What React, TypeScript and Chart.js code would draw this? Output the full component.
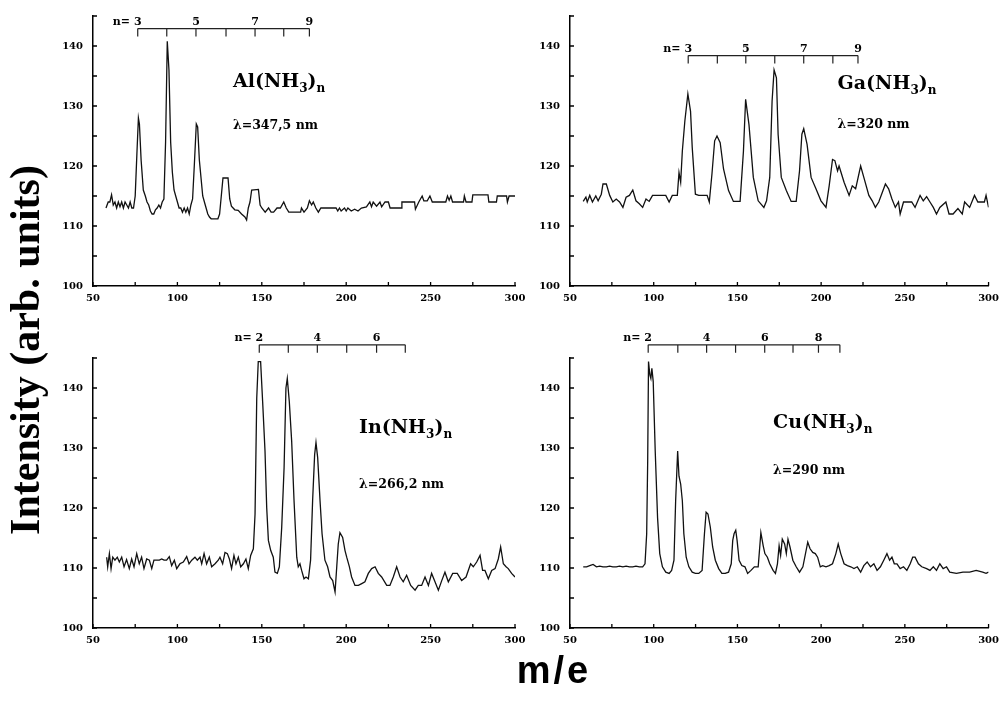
import React, { useEffect, useRef } from "react";
import { Chart, registerables } from "chart.js";

Chart.register(...registerables);

// ---------- Al(NH3)n ----------
const alMass = [57.7, 59, 60, 61, 62, 63, 64, 65, 66, 67, 68, 69, 70, 71, 72, 73, 74, 75, 76, 76.9, 77.5, 78.5, 79.8, 81, 82, 83, 84, 85, 86, 87, 88, 89, 90, 91, 92, 93, 94, 95, 96, 97, 98, 99, 100, 101, 102, 103, 104, 105, 106, 107, 108, 109, 110, 111.2, 112, 113, 114, 115, 116, 117, 118, 119, 120, 124, 125, 126, 127, 130, 131, 132, 134, 136, 138, 140, 141, 142, 143, 144, 148, 149, 150, 152, 154, 155.5, 157, 159, 161, 163, 164.5, 166, 173, 173.5, 175, 177, 178.2, 179.5, 180.5, 182, 183.5, 185, 194, 195, 196, 197, 199, 200, 201, 203, 205, 207, 209, 212, 214, 215, 216, 218, 220, 221, 223, 225, 226, 232.5, 233, 240.5, 241, 243, 245, 246, 248, 249.6, 251, 259, 260, 261, 262, 263, 269.5, 270, 271, 274.5, 275, 284, 284.5, 289, 289.5, 295, 295.5, 296.5, 300];
const alIntensity = [113, 114, 114, 115.2, 113.5, 114, 113, 114, 113.2, 114, 113, 114, 113.5, 113, 114, 113, 113, 115, 122, 128, 127, 121, 116, 115, 114, 113.5, 112.5, 112, 112, 112.7, 113, 113.5, 113, 114, 114.5, 124, 140.8, 136, 124, 119, 116, 115, 114, 113, 113, 112.3, 113, 112.3, 113, 112, 113.5, 114.5, 120, 127, 126.5, 121, 118, 115, 114, 113, 112, 111.5, 111.2, 111.2, 112, 115, 118, 118, 114.5, 113.3, 112.7, 112.6, 112, 111.5, 111, 113, 114, 116, 116.1, 113.5, 113, 112.3, 113, 112.3, 112.3, 113, 113, 114, 113, 112.3, 112.3, 113, 112.3, 113, 114.2, 113.5, 114, 113, 112.3, 113, 113, 112.5, 113, 112.5, 113, 112.5, 113, 112.5, 112.8, 112.5, 113, 113.2, 114, 113.2, 114, 113.3, 114, 113.2, 114, 114, 113, 113, 114, 114, 112.8, 114, 115, 114.2, 114.2, 115, 114, 114, 115, 114.3, 115, 114, 114, 115, 114, 114, 115.2, 115.2, 114, 114, 115, 115, 114, 115, 115];
const alBracketMass = [76.5, 93.7, 111, 128.8, 146, 163, 178.2];
const alBracketLabels = ["n= 3", "", "5", "", "7", "", "9"];

// ---------- Ga(NH3)n ----------
const gaMass = [57.9, 59.5, 60.3, 61.8, 63.4, 65.4, 66.8, 68.7, 69.7, 71.7, 73.7, 75.6, 77.6, 79.6, 81.6, 83.5, 85.5, 87.5, 89.4, 91.4, 93.4, 95.4, 97.3, 99.3, 103.3, 107.2, 109.2, 111.1, 114.1, 115.1, 116.1, 117.1, 118.6, 120.4, 122.0, 123.0, 124.9, 126.9, 131.9, 133.2, 134.8, 136.4, 137.8, 139.7, 141.7, 144.7, 147.6, 151.6, 153.6, 154.9, 156.9, 159.5, 162.4, 165.8, 167.4, 169.3, 170.7, 171.9, 173.3, 174.3, 176.2, 179.2, 182.1, 185.1, 187.1, 188.5, 189.6, 191.6, 194.0, 196.9, 199.9, 202.9, 204.8, 206.8, 208.2, 209.8, 210.7, 213.7, 216.7, 218.6, 220.6, 223.6, 225.5, 228.5, 230.5, 232.4, 234.4, 238.4, 240.3, 242.3, 244.3, 246.2, 247.2, 249.2, 254.1, 256.1, 259.1, 261.0, 263.0, 265.0, 267.0, 268.9, 270.9, 274.5, 276.4, 278.8, 281.7, 284.3, 285.7, 288.7, 291.6, 293.6, 297.5, 298.5, 300.0];
const gaIntensity = [114.1, 114.8, 114.0, 115.1, 114.0, 115.0, 114.2, 115.3, 117.0, 117.0, 115.1, 114.0, 114.5, 114.0, 113.1, 114.8, 115.1, 116.0, 114.2, 113.7, 113.1, 114.5, 114.1, 115.1, 115.1, 115.1, 114.0, 115.1, 115.1, 118.9, 117.3, 122.5, 127.5, 132.0, 129.1, 123.1, 115.3, 115.1, 115.1, 114.0, 118.7, 124.2, 125.0, 123.9, 119.5, 115.9, 114.1, 114.1, 122.5, 131.1, 126.9, 118.1, 114.2, 113.1, 114.2, 118.1, 130.8, 136.0, 134.7, 125.3, 118.1, 115.9, 114.1, 114.1, 119.2, 125.3, 126.2, 123.6, 118.1, 116.2, 114.2, 113.1, 116.7, 121.1, 120.9, 119.2, 120.0, 117.3, 115.1, 116.7, 116.2, 120.0, 118.1, 115.1, 114.2, 113.1, 114.0, 117.0, 116.2, 114.5, 113.1, 114.0, 112.0, 114.0, 114.0, 113.1, 115.1, 114.2, 114.9, 114.0, 113.1, 112.0, 113.1, 114.0, 112.0, 112.0, 112.9, 112.0, 114.0, 113.1, 115.1, 114.0, 114.0, 115.1, 113.1];
const gaBracketMass = [120.6, 138, 155, 172.3, 189.6, 207, 222];
const gaBracketLabels = ["n= 3", "", "5", "", "7", "", "9"];

// ---------- In(NH3)n ----------
const inMass = [58.1, 58.7, 59.7, 60.7, 61.7, 63.0, 64.4, 65.6, 67.0, 68.4, 69.9, 71.5, 72.9, 74.3, 75.9, 77.4, 78.8, 80.2, 81.8, 83.4, 84.8, 86.1, 87.7, 89.3, 90.7, 92.1, 93.6, 95.2, 96.6, 98.2, 99.6, 101.5, 103.5, 105.5, 106.9, 108.5, 110.4, 111.8, 113.4, 114.4, 115.8, 117.3, 118.9, 120.3, 122.3, 124.2, 125.2, 126.8, 128.2, 129.6, 130.8, 132.1, 133.5, 134.7, 136.1, 137.5, 139.1, 140.6, 142.0, 143.4, 145.0, 146.0, 147.0, 147.9, 149.3, 150.5, 151.9, 152.9, 153.9, 155.3, 156.8, 157.8, 159.2, 160.4, 161.8, 163.2, 164.3, 165.1, 166.3, 167.7, 169.1, 170.7, 171.6, 172.6, 173.6, 175.0, 176.2, 177.6, 178.9, 180.1, 181.3, 182.1, 183.1, 184.5, 185.7, 187.4, 189.0, 190.4, 192.0, 193.4, 194.4, 195.3, 196.3, 197.9, 199.3, 200.3, 201.9, 203.2, 205.2, 207.2, 209.2, 211.1, 213.1, 215.1, 217.1, 219.0, 221.0, 224.0, 225.9, 227.9, 229.9, 231.9, 233.8, 235.8, 238.2, 240.8, 242.7, 244.7, 246.7, 248.7, 250.6, 252.6, 254.6, 256.6, 258.5, 260.5, 263.1, 265.8, 268.4, 271.0, 273.7, 275.3, 277.3, 279.3, 280.8, 282.2, 284.2, 286.2, 288.2, 290.1, 291.5, 293.1, 294.7, 296.0, 298.0, 300.0];
const inIntensity = [111.8, 110.2, 112.4, 109.9, 111.8, 111.3, 111.8, 111.0, 111.8, 110.2, 111.4, 109.9, 111.5, 110.2, 112.4, 110.7, 111.8, 109.9, 111.5, 111.3, 109.9, 111.3, 111.3, 111.3, 111.5, 111.3, 111.3, 111.9, 110.4, 111.3, 109.9, 110.7, 111.0, 111.9, 110.7, 111.3, 111.8, 111.3, 111.8, 110.7, 112.4, 110.7, 111.8, 110.2, 110.7, 111.3, 111.8, 110.7, 112.6, 112.4, 111.5, 109.9, 112.1, 110.7, 111.8, 110.2, 110.7, 111.5, 109.9, 112.1, 113.2, 119.0, 138.3, 144.4, 144.4, 137.7, 129.5, 120.1, 114.6, 112.9, 111.8, 109.3, 109.1, 110.2, 116.8, 126.7, 140.0, 141.6, 137.7, 131.1, 121.2, 111.8, 110.2, 110.7, 109.6, 108.2, 108.5, 108.2, 111.3, 121.2, 128.9, 130.9, 128.4, 121.2, 115.7, 111.3, 110.2, 108.5, 107.9, 106.0, 110.2, 114.0, 115.9, 115.1, 112.9, 111.8, 110.2, 108.5, 107.1, 107.1, 107.4, 107.7, 109.1, 109.9, 110.2, 109.1, 108.5, 107.1, 107.1, 108.5, 110.2, 108.5, 107.7, 108.8, 107.1, 106.3, 107.1, 107.1, 108.5, 107.1, 109.1, 107.7, 106.3, 107.9, 109.3, 107.7, 109.1, 109.1, 107.9, 108.5, 110.7, 110.2, 111.0, 112.1, 109.6, 109.6, 108.2, 109.6, 109.9, 111.5, 113.5, 110.7, 110.2, 109.9, 109.1, 108.5];
const inBracketMass = [148.5, 165.7, 182.9, 200.3, 218, 235];
const inBracketLabels = ["n= 2", "", "4", "", "6", ""];

// ---------- Cu(NH3)n ----------
const cuMass = [57.9, 59.9, 61.8, 63.8, 65.8, 67.8, 69.7, 71.7, 73.7, 75.6, 77.6, 79.6, 81.6, 83.5, 85.5, 87.5, 89.4, 91.4, 93.4, 94.8, 95.8, 96.4, 96.9, 97.7, 98.3, 98.9, 99.7, 100.9, 102.3, 103.6, 105.2, 107.2, 109.2, 110.7, 112.1, 113.1, 114.3, 115.1, 116.1, 117.1, 118.0, 119.4, 121.0, 123.0, 124.9, 126.9, 128.9, 130.3, 131.3, 132.4, 133.8, 135.2, 136.8, 138.8, 140.7, 142.7, 144.7, 146.3, 147.2, 148.0, 149.0, 149.8, 151.0, 152.6, 154.5, 156.1, 158.1, 160.1, 162.4, 164.0, 165.4, 166.4, 167.9, 169.3, 171.3, 172.7, 173.9, 174.9, 175.8, 176.8, 178.2, 179.2, 180.2, 181.4, 183.1, 185.1, 187.1, 189.1, 192.0, 193.4, 195.0, 196.5, 197.9, 199.5, 200.9, 202.9, 204.8, 206.8, 208.8, 210.2, 211.7, 213.7, 215.7, 217.7, 219.6, 221.6, 223.6, 225.5, 227.5, 229.5, 231.5, 233.4, 235.4, 237.4, 239.3, 240.9, 242.3, 243.7, 245.3, 247.2, 249.2, 251.2, 253.2, 254.7, 256.1, 258.1, 260.1, 263.0, 265.0, 267.0, 268.9, 270.9, 272.9, 274.9, 276.8, 280.8, 284.7, 288.7, 292.6, 296.5, 298.5, 300.0];
const cuIntensity = [110.2, 110.2, 110.4, 110.6, 110.2, 110.3, 110.2, 110.2, 110.3, 110.2, 110.2, 110.3, 110.2, 110.3, 110.2, 110.2, 110.3, 110.2, 110.2, 110.7, 115.7, 127.8, 144.4, 142.2, 141.6, 143.3, 141.1, 129.5, 118.4, 112.4, 110.2, 109.3, 109.1, 109.6, 111.3, 121.2, 129.5, 125.3, 124.0, 121.2, 115.7, 111.8, 110.2, 109.3, 109.1, 109.1, 109.6, 115.7, 119.3, 119.0, 116.8, 113.5, 111.3, 109.9, 109.1, 109.1, 109.3, 110.7, 114.6, 115.7, 116.3, 114.6, 111.3, 110.4, 110.2, 109.1, 109.6, 110.2, 110.2, 115.9, 113.7, 112.4, 111.8, 110.7, 109.6, 109.1, 110.7, 113.7, 112.1, 114.8, 114.0, 112.4, 114.8, 113.5, 111.3, 110.2, 109.3, 110.2, 114.3, 113.2, 112.6, 112.4, 111.8, 110.2, 110.4, 110.2, 110.4, 110.7, 112.4, 114.0, 112.4, 110.7, 110.4, 110.2, 109.9, 110.2, 109.3, 110.4, 111.0, 110.2, 110.7, 109.6, 110.2, 111.3, 112.4, 111.3, 111.8, 110.7, 110.7, 109.9, 110.2, 109.6, 110.7, 111.8, 111.8, 110.7, 110.2, 109.9, 109.6, 110.2, 109.6, 110.7, 109.9, 110.2, 109.3, 109.1, 109.3, 109.3, 109.6, 109.3, 109.1, 109.3];
const cuBracketMass = [96.7, 114.4, 131.6, 148.9, 166.3, 183.2, 198.4, 211.2];
const cuBracketLabels = ["n= 2", "", "4", "", "6", "", "8", ""];

// ---------- axes ----------
const X_TICKS = [50, 100, 150, 200, 250, 300];
const Y_TICKS = [100, 110, 120, 130, 140];
const X_MINOR = [50, 75, 100, 125, 150, 175, 200, 225, 250, 275, 300];
const Y_MINOR = [100, 105, 110, 115, 120, 125, 130, 135, 140, 145];

const SERIF = '"DejaVu Serif", "Liberation Serif", serif';

type NamePart = [string, boolean];

interface PanelProps {
  mass: number[];
  intensity: number[];
  nameParts: NamePart[];
  lambda: string;
  namePos: [number, number];
  lambdaPos: [number, number];
  bracketMass: number[];
  bracketLabels: string[];
  bracketLevel: number;
  left: number;
  top: number;
  width: number;
  height: number;
  padding: { left: number; right: number; top: number; bottom: number };
  yAxisWidth: number;
}

function Panel(p: PanelProps) {
  const ref = useRef<HTMLCanvasElement>(null);
  useEffect(() => {
    const canvas = ref.current;
    if (!canvas) return;
    const annotPlugin = {
      id: "annot",
      afterDraw(chart: any) {
        const ctx: CanvasRenderingContext2D = chart.ctx;
        const xs = chart.scales.x;
        const ys = chart.scales.y;
        const { left, bottom } = chart.chartArea;
        ctx.save();
        // inward tick marks
        ctx.strokeStyle = "#000";
        ctx.lineWidth = 1.3;
        ctx.beginPath();
        Y_MINOR.forEach((v) => {
          const y = ys.getPixelForValue(v);
          ctx.moveTo(left, y);
          ctx.lineTo(left + 4, y);
        });
        X_MINOR.forEach((v) => {
          const x = xs.getPixelForValue(v);
          ctx.moveTo(x, bottom);
          ctx.lineTo(x, bottom - 4);
        });
        ctx.stroke();

        // n= bracket
        const yb = ys.getPixelForValue(p.bracketLevel);
        const bx = p.bracketMass.map((m) => xs.getPixelForValue(m));
        ctx.strokeStyle = "#222";
        ctx.lineWidth = 1.2;
        ctx.beginPath();
        ctx.moveTo(bx[0], yb);
        ctx.lineTo(bx[bx.length - 1], yb);
        bx.forEach((x) => {
          ctx.moveTo(x, yb);
          ctx.lineTo(x, yb + 8);
        });
        ctx.stroke();
        ctx.fillStyle = "#000";
        ctx.font = `bold 11px ${SERIF}`;
        ctx.textBaseline = "alphabetic";
        p.bracketLabels.forEach((lab, i) => {
          if (!lab) return;
          if (lab.startsWith("n=")) {
            const num = lab.replace("n=", "").trim();
            const w = ctx.measureText(num).width;
            ctx.textAlign = "center";
            ctx.fillText(num, bx[i], yb - 4);
            ctx.textAlign = "right";
            ctx.fillText("n= ", bx[i] - w / 2, yb - 4);
          } else {
            ctx.textAlign = "center";
            ctx.fillText(lab, bx[i], yb - 4);
          }
        });

        // species name with subscripts
        let nx = xs.getPixelForValue(p.namePos[0]);
        const ny = ys.getPixelForValue(p.namePos[1]);
        ctx.textAlign = "left";
        p.nameParts.forEach(([t, sub]) => {
          ctx.font = sub ? `bold 12px ${SERIF}` : `bold 19px ${SERIF}`;
          ctx.fillText(t, nx, sub ? ny + 5 : ny);
          nx += ctx.measureText(t).width;
        });

        // wavelength
        ctx.font = `bold 12.5px ${SERIF}`;
        ctx.fillText(p.lambda, xs.getPixelForValue(p.lambdaPos[0]), ys.getPixelForValue(p.lambdaPos[1]));
        ctx.restore();
      },
    };

    const chart = new Chart(canvas, {
      type: "line",
      data: {
        datasets: [
          {
            data: p.mass.map((m, i) => ({ x: m, y: p.intensity[i] })),
            borderColor: "#111",
            borderWidth: 1.3,
            pointRadius: 0,
            tension: 0,
            fill: false,
          },
        ],
      },
      options: {
        responsive: false,
        maintainAspectRatio: false,
        animation: false,
        layout: { padding: p.padding },
        plugins: { legend: { display: false }, tooltip: { enabled: false } },
        scales: {
          x: {
            type: "linear",
            min: 50,
            max: 300,
            afterFit: (s: any) => {
              s.height = 20;
            },
            afterBuildTicks: (s: any) => {
              s.ticks = X_TICKS.map((v) => ({ value: v }));
            },
            grid: { display: false, drawTicks: false },
            border: { display: true, color: "#000", width: 1.5 },
            ticks: {
              color: "#000",
              font: { family: SERIF, weight: "bold", size: 10 },
              padding: 6,
              maxRotation: 0,
              autoSkip: false,
            },
          },
          y: {
            type: "linear",
            min: 100,
            max: 145,
            afterFit: (s: any) => {
              s.width = p.yAxisWidth;
            },
            afterBuildTicks: (s: any) => {
              s.ticks = Y_TICKS.map((v) => ({ value: v }));
            },
            grid: { display: false, drawTicks: false },
            border: { display: true, color: "#000", width: 1.5 },
            ticks: {
              color: "#000",
              font: { family: SERIF, weight: "bold", size: 10 },
              padding: 10,
              autoSkip: false,
            },
          },
        },
      } as any,
      plugins: [annotPlugin],
    });
    return () => chart.destroy();
  }, []);
  return (
    <canvas
      ref={ref}
      width={p.width}
      height={p.height}
      style={{ position: "absolute", left: p.left, top: p.top, width: p.width, height: p.height }}
    />
  );
}

export default function App() {
  const leftPad = (top: number) => top;
  return (
    <div
      style={{
        position: "fixed",
        left: 0,
        top: 0,
        width: 1003,
        height: 703,
        overflow: "hidden",
        background: "#fff",
      }}
    >
      <Panel
        mass={alMass}
        intensity={alIntensity}
        nameParts={[["Al(NH", false], ["3", true], [")", false], ["n", true]]}
        lambda="λ=347,5 nm"
        namePos={[132.9, 133.1]}
        lambdaPos={[132.9, 126.2]}
        bracketMass={alBracketMass}
        bracketLabels={alBracketLabels}
        bracketLevel={142.9}
        left={0}
        top={0}
        width={540}
        height={310}
        padding={{ left: 33, right: 25, top: leftPad(14), bottom: 4 }}
        yAxisWidth={60}
      />
      <Panel
        mass={gaMass}
        intensity={gaIntensity}
        nameParts={[["Ga(NH", false], ["3", true], [")", false], ["n", true]]}
        lambda="λ=320 nm"
        namePos={[209.8, 132.8]}
        lambdaPos={[209.8, 126.4]}
        bracketMass={gaBracketMass}
        bracketLabels={gaBracketLabels}
        bracketLevel={138.4}
        left={520}
        top={0}
        width={485}
        height={310}
        padding={{ left: 10, right: 12, top: 14, bottom: 4 }}
        yAxisWidth={40}
      />
      <Panel
        mass={inMass}
        intensity={inIntensity}
        nameParts={[["In(NH", false], ["3", true], [")", false], ["n", true]]}
        lambda="λ=266,2 nm"
        namePos={[207.6, 132.5]}
        lambdaPos={[207.6, 123.4]}
        bracketMass={inBracketMass}
        bracketLabels={inBracketLabels}
        bracketLevel={147.2}
        left={0}
        top={310}
        width={540}
        height={340}
        padding={{ left: 33, right: 25, top: 48, bottom: 2 }}
        yAxisWidth={60}
      />
      <Panel
        mass={cuMass}
        intensity={cuIntensity}
        nameParts={[["Cu(NH", false], ["3", true], [")", false], ["n", true]]}
        lambda="λ=290 nm"
        namePos={[171.3, 133.4]}
        lambdaPos={[171.3, 125.7]}
        bracketMass={cuBracketMass}
        bracketLabels={cuBracketLabels}
        bracketLevel={147.2}
        left={520}
        top={310}
        width={485}
        height={340}
        padding={{ left: 10, right: 12, top: 48, bottom: 2 }}
        yAxisWidth={40}
      />
      <div
        style={{
          position: "absolute",
          left: 25 - 250,
          top: 350 - 21,
          width: 500,
          height: 42,
          lineHeight: "42px",
          textAlign: "center",
          transform: "rotate(-90deg)",
          fontFamily: '"Liberation Serif", serif',
          fontWeight: "bold",
          fontSize: 42,
          color: "#000",
          whiteSpace: "nowrap",
        }}
      >
        Intensity (arb. units)
      </div>
      <div
        style={{
          position: "absolute",
          left: 554 - 100,
          top: 651,
          width: 200,
          height: 38,
          lineHeight: "38px",
          textAlign: "center",
          fontFamily: '"Liberation Sans", Arial, sans-serif',
          fontWeight: "bold",
          fontSize: 38,
          letterSpacing: 3,
          color: "#000",
          whiteSpace: "nowrap",
        }}
      >
        m/e
      </div>
    </div>
  );
}
